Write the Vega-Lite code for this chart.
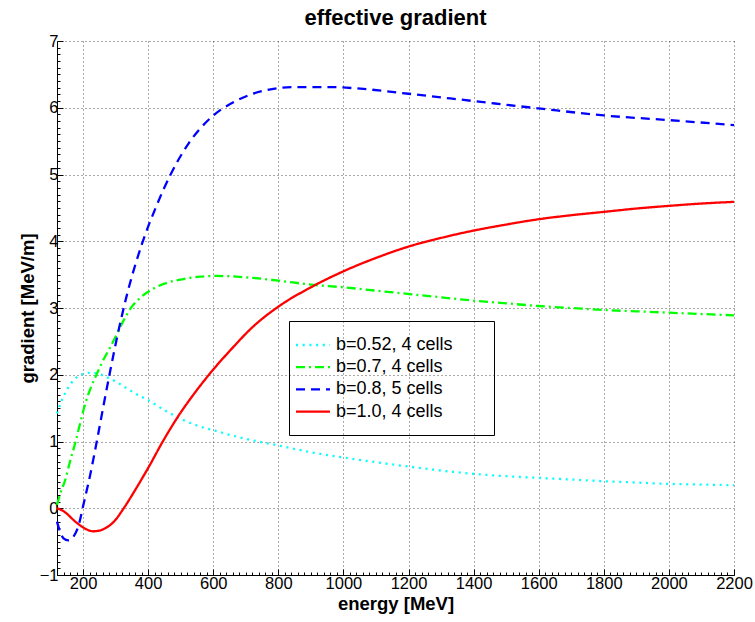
{
  "$schema": "https://vega.github.io/schema/vega-lite/v6.json",
  "width": 677,
  "height": 534,
  "autosize": {"type": "none"},
  "padding": {"left": 57, "top": 41, "right": 21, "bottom": 47},
  "background": "white",
  "config": {
    "view": {"stroke": null},
    "font": "Liberation Sans"
  },
  "title": {
    "text": "effective gradient",
    "font": "Liberation Sans",
    "fontSize": 22,
    "fontWeight": "bold",
    "color": "black",
    "anchor": "middle",
    "offset": 3
  },
  "data": {
    "values": [
      {"series": "b=0.52, 4 cells", "energy": 120, "gradient": 1.42},
      {"series": "b=0.52, 4 cells", "energy": 135, "gradient": 1.62},
      {"series": "b=0.52, 4 cells", "energy": 155, "gradient": 1.81},
      {"series": "b=0.52, 4 cells", "energy": 175, "gradient": 1.94},
      {"series": "b=0.52, 4 cells", "energy": 200, "gradient": 2.01},
      {"series": "b=0.52, 4 cells", "energy": 225, "gradient": 2.03},
      {"series": "b=0.52, 4 cells", "energy": 250, "gradient": 2.01},
      {"series": "b=0.52, 4 cells", "energy": 270, "gradient": 1.97},
      {"series": "b=0.52, 4 cells", "energy": 300, "gradient": 1.9},
      {"series": "b=0.52, 4 cells", "energy": 330, "gradient": 1.81},
      {"series": "b=0.52, 4 cells", "energy": 360, "gradient": 1.72},
      {"series": "b=0.52, 4 cells", "energy": 400, "gradient": 1.62},
      {"series": "b=0.52, 4 cells", "energy": 450, "gradient": 1.47},
      {"series": "b=0.52, 4 cells", "energy": 500, "gradient": 1.34},
      {"series": "b=0.52, 4 cells", "energy": 550, "gradient": 1.24},
      {"series": "b=0.52, 4 cells", "energy": 600, "gradient": 1.17},
      {"series": "b=0.52, 4 cells", "energy": 650, "gradient": 1.1},
      {"series": "b=0.52, 4 cells", "energy": 700, "gradient": 1.04},
      {"series": "b=0.52, 4 cells", "energy": 800, "gradient": 0.94},
      {"series": "b=0.52, 4 cells", "energy": 900, "gradient": 0.84},
      {"series": "b=0.52, 4 cells", "energy": 1000, "gradient": 0.76},
      {"series": "b=0.52, 4 cells", "energy": 1100, "gradient": 0.69},
      {"series": "b=0.52, 4 cells", "energy": 1200, "gradient": 0.625},
      {"series": "b=0.52, 4 cells", "energy": 1300, "gradient": 0.565},
      {"series": "b=0.52, 4 cells", "energy": 1400, "gradient": 0.515},
      {"series": "b=0.52, 4 cells", "energy": 1500, "gradient": 0.48},
      {"series": "b=0.52, 4 cells", "energy": 1600, "gradient": 0.455},
      {"series": "b=0.52, 4 cells", "energy": 1700, "gradient": 0.43},
      {"series": "b=0.52, 4 cells", "energy": 1800, "gradient": 0.405},
      {"series": "b=0.52, 4 cells", "energy": 1900, "gradient": 0.385},
      {"series": "b=0.52, 4 cells", "energy": 2000, "gradient": 0.365},
      {"series": "b=0.52, 4 cells", "energy": 2100, "gradient": 0.355},
      {"series": "b=0.52, 4 cells", "energy": 2200, "gradient": 0.345},

      {"series": "b=0.7, 4 cells", "energy": 120, "gradient": 0.05},
      {"series": "b=0.7, 4 cells", "energy": 130, "gradient": 0.22},
      {"series": "b=0.7, 4 cells", "energy": 145, "gradient": 0.42},
      {"series": "b=0.7, 4 cells", "energy": 160, "gradient": 0.7},
      {"series": "b=0.7, 4 cells", "energy": 175, "gradient": 0.96},
      {"series": "b=0.7, 4 cells", "energy": 190, "gradient": 1.25},
      {"series": "b=0.7, 4 cells", "energy": 207, "gradient": 1.57},
      {"series": "b=0.7, 4 cells", "energy": 225, "gradient": 1.82},
      {"series": "b=0.7, 4 cells", "energy": 243, "gradient": 2.02},
      {"series": "b=0.7, 4 cells", "energy": 260, "gradient": 2.2},
      {"series": "b=0.7, 4 cells", "energy": 280, "gradient": 2.38},
      {"series": "b=0.7, 4 cells", "energy": 300, "gradient": 2.57},
      {"series": "b=0.7, 4 cells", "energy": 320, "gradient": 2.77},
      {"series": "b=0.7, 4 cells", "energy": 350, "gradient": 3.02},
      {"series": "b=0.7, 4 cells", "energy": 380, "gradient": 3.17},
      {"series": "b=0.7, 4 cells", "energy": 420, "gradient": 3.3},
      {"series": "b=0.7, 4 cells", "energy": 460, "gradient": 3.38},
      {"series": "b=0.7, 4 cells", "energy": 505, "gradient": 3.43},
      {"series": "b=0.7, 4 cells", "energy": 560, "gradient": 3.47},
      {"series": "b=0.7, 4 cells", "energy": 610, "gradient": 3.48},
      {"series": "b=0.7, 4 cells", "energy": 700, "gradient": 3.46},
      {"series": "b=0.7, 4 cells", "energy": 800, "gradient": 3.41},
      {"series": "b=0.7, 4 cells", "energy": 900, "gradient": 3.35},
      {"series": "b=0.7, 4 cells", "energy": 1000, "gradient": 3.31},
      {"series": "b=0.7, 4 cells", "energy": 1100, "gradient": 3.26},
      {"series": "b=0.7, 4 cells", "energy": 1200, "gradient": 3.21},
      {"series": "b=0.7, 4 cells", "energy": 1300, "gradient": 3.16},
      {"series": "b=0.7, 4 cells", "energy": 1400, "gradient": 3.11},
      {"series": "b=0.7, 4 cells", "energy": 1500, "gradient": 3.07},
      {"series": "b=0.7, 4 cells", "energy": 1600, "gradient": 3.03},
      {"series": "b=0.7, 4 cells", "energy": 1700, "gradient": 3.0},
      {"series": "b=0.7, 4 cells", "energy": 1800, "gradient": 2.97},
      {"series": "b=0.7, 4 cells", "energy": 1900, "gradient": 2.95},
      {"series": "b=0.7, 4 cells", "energy": 2000, "gradient": 2.93},
      {"series": "b=0.7, 4 cells", "energy": 2100, "gradient": 2.91},
      {"series": "b=0.7, 4 cells", "energy": 2200, "gradient": 2.89},

      {"series": "b=0.8, 5 cells", "energy": 120, "gradient": -0.2},
      {"series": "b=0.8, 5 cells", "energy": 130, "gradient": -0.36},
      {"series": "b=0.8, 5 cells", "energy": 140, "gradient": -0.45},
      {"series": "b=0.8, 5 cells", "energy": 155, "gradient": -0.48},
      {"series": "b=0.8, 5 cells", "energy": 170, "gradient": -0.43},
      {"series": "b=0.8, 5 cells", "energy": 185, "gradient": -0.28},
      {"series": "b=0.8, 5 cells", "energy": 202, "gradient": 0.07},
      {"series": "b=0.8, 5 cells", "energy": 222, "gradient": 0.5},
      {"series": "b=0.8, 5 cells", "energy": 243, "gradient": 1.02},
      {"series": "b=0.8, 5 cells", "energy": 263, "gradient": 1.54},
      {"series": "b=0.8, 5 cells", "energy": 284, "gradient": 2.07},
      {"series": "b=0.8, 5 cells", "energy": 305, "gradient": 2.57},
      {"series": "b=0.8, 5 cells", "energy": 335, "gradient": 3.2},
      {"series": "b=0.8, 5 cells", "energy": 381, "gradient": 3.96},
      {"series": "b=0.8, 5 cells", "energy": 423, "gradient": 4.5},
      {"series": "b=0.8, 5 cells", "energy": 469, "gradient": 5.0},
      {"series": "b=0.8, 5 cells", "energy": 525, "gradient": 5.47},
      {"series": "b=0.8, 5 cells", "energy": 597, "gradient": 5.87},
      {"series": "b=0.8, 5 cells", "energy": 669, "gradient": 6.1},
      {"series": "b=0.8, 5 cells", "energy": 751, "gradient": 6.25},
      {"series": "b=0.8, 5 cells", "energy": 853, "gradient": 6.31},
      {"series": "b=0.8, 5 cells", "energy": 966, "gradient": 6.31},
      {"series": "b=0.8, 5 cells", "energy": 1040, "gradient": 6.29},
      {"series": "b=0.8, 5 cells", "energy": 1200, "gradient": 6.21},
      {"series": "b=0.8, 5 cells", "energy": 1400, "gradient": 6.1},
      {"series": "b=0.8, 5 cells", "energy": 1600, "gradient": 5.99},
      {"series": "b=0.8, 5 cells", "energy": 1800, "gradient": 5.885},
      {"series": "b=0.8, 5 cells", "energy": 2000, "gradient": 5.815},
      {"series": "b=0.8, 5 cells", "energy": 2200, "gradient": 5.74},

      {"series": "b=1.0, 4 cells", "energy": 120, "gradient": 0.0},
      {"series": "b=1.0, 4 cells", "energy": 135, "gradient": -0.03},
      {"series": "b=1.0, 4 cells", "energy": 150, "gradient": -0.08},
      {"series": "b=1.0, 4 cells", "energy": 165, "gradient": -0.15},
      {"series": "b=1.0, 4 cells", "energy": 180, "gradient": -0.215},
      {"series": "b=1.0, 4 cells", "energy": 195, "gradient": -0.27},
      {"series": "b=1.0, 4 cells", "energy": 210, "gradient": -0.315},
      {"series": "b=1.0, 4 cells", "energy": 230, "gradient": -0.345},
      {"series": "b=1.0, 4 cells", "energy": 250, "gradient": -0.335},
      {"series": "b=1.0, 4 cells", "energy": 270, "gradient": -0.295},
      {"series": "b=1.0, 4 cells", "energy": 295, "gradient": -0.2},
      {"series": "b=1.0, 4 cells", "energy": 325, "gradient": 0.0},
      {"series": "b=1.0, 4 cells", "energy": 361, "gradient": 0.28},
      {"series": "b=1.0, 4 cells", "energy": 402, "gradient": 0.62},
      {"series": "b=1.0, 4 cells", "energy": 445, "gradient": 1.0},
      {"series": "b=1.0, 4 cells", "energy": 494, "gradient": 1.39},
      {"series": "b=1.0, 4 cells", "energy": 545, "gradient": 1.74},
      {"series": "b=1.0, 4 cells", "energy": 597, "gradient": 2.06},
      {"series": "b=1.0, 4 cells", "energy": 655, "gradient": 2.38},
      {"series": "b=1.0, 4 cells", "energy": 720, "gradient": 2.71},
      {"series": "b=1.0, 4 cells", "energy": 800, "gradient": 3.02},
      {"series": "b=1.0, 4 cells", "energy": 900, "gradient": 3.31},
      {"series": "b=1.0, 4 cells", "energy": 1000, "gradient": 3.55},
      {"series": "b=1.0, 4 cells", "energy": 1100, "gradient": 3.75},
      {"series": "b=1.0, 4 cells", "energy": 1200, "gradient": 3.92},
      {"series": "b=1.0, 4 cells", "energy": 1300, "gradient": 4.05},
      {"series": "b=1.0, 4 cells", "energy": 1400, "gradient": 4.16},
      {"series": "b=1.0, 4 cells", "energy": 1500, "gradient": 4.25},
      {"series": "b=1.0, 4 cells", "energy": 1600, "gradient": 4.33},
      {"series": "b=1.0, 4 cells", "energy": 1700, "gradient": 4.39},
      {"series": "b=1.0, 4 cells", "energy": 1800, "gradient": 4.44},
      {"series": "b=1.0, 4 cells", "energy": 1900, "gradient": 4.49},
      {"series": "b=1.0, 4 cells", "energy": 2000, "gradient": 4.53},
      {"series": "b=1.0, 4 cells", "energy": 2100, "gradient": 4.565},
      {"series": "b=1.0, 4 cells", "energy": 2200, "gradient": 4.59}
    ]
  },
  "mark": {"type": "line", "interpolate": "monotone", "strokeWidth": 2.3},
  "encoding": {
    "x": {
      "field": "energy",
      "type": "quantitative",
      "scale": {"domain": [120, 2200], "nice": false, "zero": false},
      "axis": {
        "title": "energy [MeV]",
        "tickCount": 1000,
        "tickMinStep": 1,
        "values": [120,140,160,180,200,220,240,260,280,300,320,340,360,380,400,420,440,460,480,500,520,540,560,580,600,620,640,660,680,700,720,740,760,780,800,820,840,860,880,900,920,940,960,980,1000,1020,1040,1060,1080,1100,1120,1140,1160,1180,1200,1220,1240,1260,1280,1300,1320,1340,1360,1380,1400,1420,1440,1460,1480,1500,1520,1540,1560,1580,1600,1620,1640,1660,1680,1700,1720,1740,1760,1780,1800,1820,1840,1860,1880,1900,1920,1940,1960,1980,2000,2020,2040,2060,2080,2100,2120,2140,2160,2180,2200],
        "format": "d",
        "labelExpr": "datum.value % 200 === 0 ? datum.label : ''",
        "labelOverlap": false,
        "labelFlush": false,
        "labelBound": false,
        "labelFont": "Liberation Sans",
        "labelFontSize": 16.5,
        "labelColor": "black",
        "labelPadding": 6,
        "tickColor": "black",
        "tickSize": {"condition": {"test": "datum.value % 200 === 0", "value": -6}, "value": -3},
        "domainColor": "black",
        "grid": true,
        "gridColor": "#444",
        "gridDash": [1, 3],
        "gridOpacity": {"condition": {"test": "datum.value % 200 === 0", "value": 0.9}, "value": 0},
        "titleFont": "Liberation Sans",
        "titleFontSize": 18.5,
        "titleFontWeight": "bold",
        "titleColor": "black",
        "titlePadding": 0
      }
    },
    "y": {
      "field": "gradient",
      "type": "quantitative",
      "scale": {"domain": [-1, 7], "nice": false, "zero": false},
      "axis": {
        "title": "gradient [MeV/m]",
        "tickCount": 1000,
        "tickMinStep": 0.01,
        "values": [-1,-0.9,-0.8,-0.7,-0.6,-0.5,-0.4,-0.3,-0.2,-0.1,0,0.1,0.2,0.3,0.4,0.5,0.6,0.7,0.8,0.9,1,1.1,1.2,1.3,1.4,1.5,1.6,1.7,1.8,1.9,2,2.1,2.2,2.3,2.4,2.5,2.6,2.7,2.8,2.9,3,3.1,3.2,3.3,3.4,3.5,3.6,3.7,3.8,3.9,4,4.1,4.2,4.3,4.4,4.5,4.6,4.7,4.8,4.9,5,5.1,5.2,5.3,5.4,5.5,5.6,5.7,5.8,5.9,6,6.1,6.2,6.3,6.4,6.5,6.6,6.7,6.8,6.9,7],
        "format": ".0f",
        "labelExpr": "abs(datum.value - round(datum.value)) < 0.001 ? datum.label : ''",
        "labelOverlap": false,
        "labelFlush": false,
        "labelBound": false,
        "labelFont": "Liberation Sans",
        "labelFontSize": 16.5,
        "labelColor": "black",
        "labelPadding": 5,
        "tickColor": "black",
        "tickSize": {"condition": {"test": "abs(datum.value - round(datum.value)) < 0.001", "value": -6}, "value": -3},
        "domainColor": "black",
        "grid": true,
        "gridColor": "#444",
        "gridDash": [1, 3],
        "gridOpacity": {"condition": {"test": "abs(datum.value - round(datum.value)) < 0.001", "value": 0.9}, "value": 0},
        "titleFont": "Liberation Sans",
        "titleFontSize": 18.5,
        "titleFontWeight": "bold",
        "titleColor": "black",
        "titlePadding": 2
      }
    },
    "color": {
      "field": "series",
      "type": "nominal",
      "scale": {
        "domain": ["b=0.52, 4 cells", "b=0.7, 4 cells", "b=0.8, 5 cells", "b=1.0, 4 cells"],
        "range": ["#00ffff", "#00ff00", "#0000ff", "#ff0000"]
      },
      "legend": {
        "title": null,
        "orient": "none",
        "legendX": 232,
        "legendY": 280,
        "strokeColor": "black",
        "padding": 14,
        "symbolType": "M-2,0H2",
        "symbolSize": 289,
        "symbolStrokeWidth": 2.3,
        "labelOffset": 13,
        "labelFont": "Liberation Sans",
        "labelFontSize": 18,
        "labelColor": "black",
        "rowPadding": 3.2,
        "labelExpr": "datum.label + '\u2003\u2002\u200b'"
      }
    },
    "strokeDash": {
      "field": "series",
      "type": "nominal",
      "scale": {
        "domain": ["b=0.52, 4 cells", "b=0.7, 4 cells", "b=0.8, 5 cells", "b=1.0, 4 cells"],
        "range": [[2, 4.7], [9, 4, 2, 4], [9, 6], [1, 0]]
      },
      "legend": {
        "title": null,
        "orient": "none",
        "legendX": 232,
        "legendY": 280,
        "strokeColor": "black",
        "padding": 14,
        "symbolType": "M-2,0H2",
        "symbolSize": 289,
        "symbolStrokeWidth": 2.3,
        "labelOffset": 13,
        "labelFont": "Liberation Sans",
        "labelFontSize": 18,
        "labelColor": "black",
        "rowPadding": 3.2,
        "labelExpr": "datum.label + '\u2003\u2002\u200b'"
      }
    }
  }
}
